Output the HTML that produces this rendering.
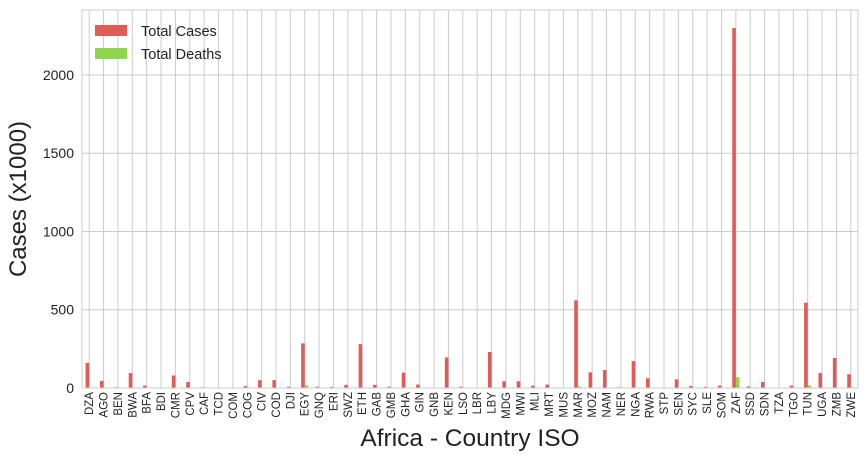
<!DOCTYPE html>
<html><head><meta charset="utf-8">
<style>
html,body{margin:0;padding:0;background:#fff;}
svg{display:block;font-family:"Liberation Sans",Arial,sans-serif;}
</style></head>
<body>
<svg id="chart" width="865" height="460" viewBox="0 0 865 460"></svg>
<script>
const categories=["DZA","AGO","BEN","BWA","BFA","BDI","CMR","CPV","CAF","TCD","COM","COG","CIV","COD","DJI","EGY","GNQ","ERI","SWZ","ETH","GAB","GMB","GHA","GIN","GNB","KEN","LSO","LBR","LBY","MDG","MWI","MLI","MRT","MUS","MAR","MOZ","NAM","NER","NGA","RWA","STP","SEN","SYC","SLE","SOM","ZAF","SSD","SDN","TZA","TGO","TUN","UGA","ZMB","ZWE"];
const totalCases=[160,45,5,95,15,1,80,38,5,1,2,12,50,50,8,285,8,7,20,280,20,8,98,22,3,195,8,3,230,43,43,15,22,1,560,100,115,5,172,62,2,55,13,7,15,2300,10,38,1,15,545,95,192,88];
const totalDeaths=[4,1,0,1,0,0,1,0,0,0,0,0,0,1,0,16,0,0,1,4,0,0,1,0,0,3,0,0,3,1,1,0,0,0,9,1,1,0,2,1,0,1,0,0,1,70,0,2,0,0,17,1,3,4];
const yTicks=[0,500,1000,1500,2000];
const NS="http://www.w3.org/2000/svg";
const svg=document.getElementById('chart');
const L=82,R=858,T=10,B=388,yMax=2415;
const step=(R-L)/categories.length;
const xc=i=>L+step*(i+0.5);
const y=v=>B-(v/yMax)*(B-T);
function mk(tag,attrs,parent){const e=document.createElementNS(NS,tag);for(const k in attrs)e.setAttribute(k,attrs[k]);(parent||svg).appendChild(e);return e;}
const grid=mk('g',{});


yTicks.forEach(t=>{
  const l=mk('line',{x1:L,x2:R,y1:y(t),y2:y(t),stroke:'#cccccc','stroke-width':1},grid);
  
  
  const tx=mk('text',{x:L-8,y:y(t)+5,'text-anchor':'end','font-size':14,fill:'#222'});
  tx.textContent=t;
  
  
});
categories.forEach((c,i)=>{
  const l=mk('line',{x1:xc(i),x2:xc(i),y1:T,y2:B,stroke:'#cccccc','stroke-width':1},grid);
  
  
  const tx=mk('text',{transform:`translate(${xc(i)+4},${B+4}) rotate(-90)`,'text-anchor':'end','font-size':11.5,fill:'#222'});
  tx.textContent=c;
  
  
});
const bw=step*0.25;
categories.forEach((c,i)=>{
  const r=mk('rect',{x:xc(i)-bw,y:y(totalCases[i]),width:bw,height:B-y(totalCases[i]),fill:'#e05c56'});
  
  
  const g=mk('rect',{x:xc(i),y:y(totalDeaths[i]),width:bw,height:B-y(totalDeaths[i]),fill:'#8fd64e'});
  
  
});
const frame=mk('rect',{x:L,y:T,width:R-L,height:B-T,fill:'none',stroke:'#cccccc','stroke-width':1});


const yt=mk('text',{transform:`translate(26,${(T+B)/2}) rotate(-90)`,'text-anchor':'middle','font-size':24,fill:'#222'});
yt.textContent='Cases (x1000)';


const xt=mk('text',{x:(L+R)/2,y:446,'text-anchor':'middle','font-size':24.5,fill:'#222'});
xt.textContent='Africa - Country ISO';


const lg=mk('g',{});


[['Total Cases','#e05c56',31],['Total Deaths','#8fd64e',54]].forEach(([t,c,yy])=>{
  const r=mk('rect',{x:95,y:yy-6,width:32,height:11,fill:c},lg);
  
  
  const tx=mk('text',{x:141,y:yy+5,'font-size':14.5,fill:'#222'},lg);
  tx.textContent=t;
  
  
});
</script>
</body></html>
